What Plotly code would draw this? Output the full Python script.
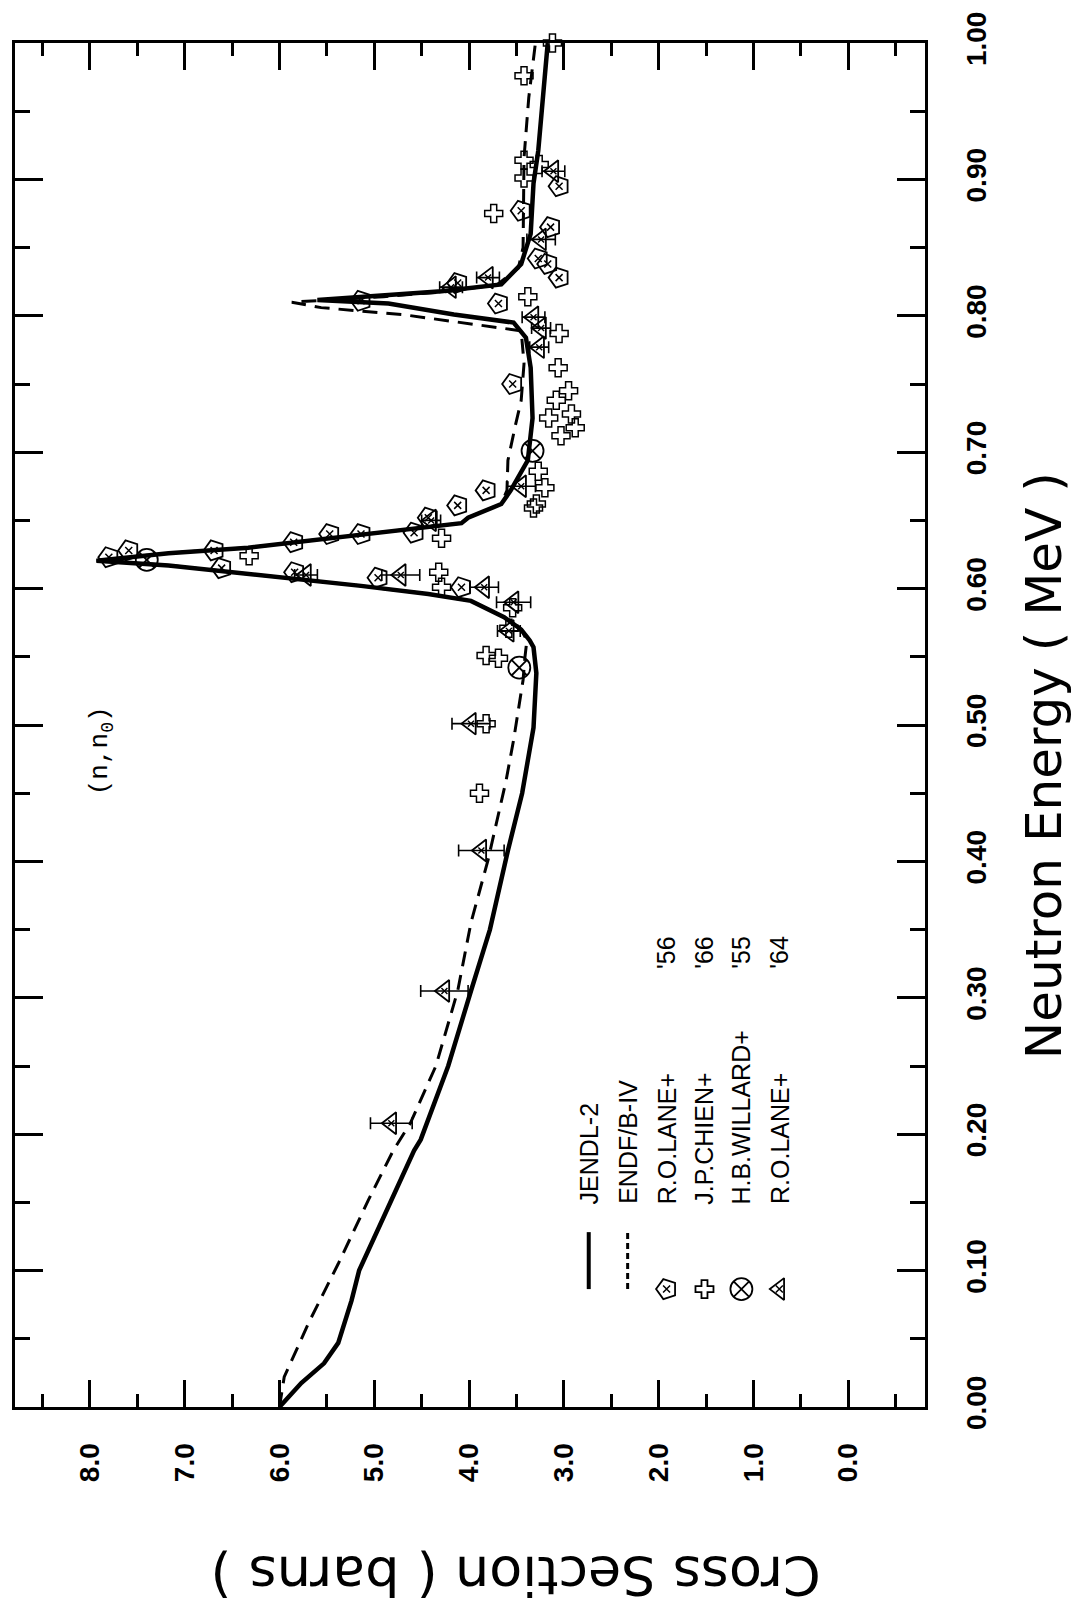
import plotly.graph_objects as go

# ---------------- data ----------------
# JENDL-2 evaluation (solid line): neutron energy (MeV) vs cross section (barns)
jendl_E = [0.0, 0.0176, 0.032, 0.047, 0.078, 0.100, 0.147, 0.188, 0.196, 0.25, 0.305, 0.35,
           0.408, 0.45, 0.498, 0.538, 0.557, 0.562, 0.570, 0.579, 0.591, 0.596, 0.602, 0.607,
           0.612, 0.617, 0.6205, 0.626, 0.630, 0.637, 0.643, 0.648, 0.652, 0.662, 0.672, 0.694,
           0.725, 0.762, 0.784, 0.795, 0.801, 0.809, 0.8115, 0.815, 0.818, 0.823, 0.838, 0.860,
           0.897, 0.921, 1.0]
jendl_xs = [6.0, 5.77, 5.53, 5.38, 5.24, 5.16, 4.85, 4.58, 4.51, 4.22, 3.98, 3.78,
            3.59, 3.44, 3.32, 3.29, 3.32, 3.36, 3.45, 3.63, 3.98, 4.43, 5.14, 5.84,
            6.54, 7.17, 7.93, 7.17, 6.33, 5.48, 4.72, 4.08, 4.01, 3.66, 3.56, 3.38,
            3.33, 3.35, 3.40, 3.53, 4.16, 4.85, 5.60, 4.85, 4.29, 3.66, 3.45, 3.35,
            3.32, 3.27, 3.17]

# ENDF/B-IV evaluation (dashed line)
endf_E = [0.0, 0.022, 0.062, 0.105, 0.152, 0.188, 0.208, 0.25, 0.305, 0.355, 0.401, 0.425,
          0.459, 0.489, 0.533, 0.55, 0.562, 0.570, 0.579, 0.591, 0.596, 0.602, 0.607, 0.612,
          0.617, 0.6205, 0.626, 0.630, 0.637, 0.643, 0.648, 0.652, 0.662, 0.672, 0.694, 0.72,
          0.738, 0.765, 0.789, 0.8007, 0.806, 0.810, 0.814, 0.818, 0.823, 0.835, 0.85, 0.916,
          0.96, 1.0]
endf_xs = [6.0, 5.95, 5.69, 5.38, 5.06, 4.80, 4.62, 4.35, 4.12, 3.98, 3.80, 3.72,
           3.61, 3.53, 3.43, 3.41, 3.39, 3.45, 3.63, 3.98, 4.43, 5.14, 5.84, 6.54,
           7.17, 7.93, 7.17, 6.33, 5.48, 4.72, 4.08, 4.01, 3.66, 3.60, 3.59, 3.51,
           3.45, 3.42, 3.45, 4.68, 5.56, 5.87, 4.90, 4.20, 3.70, 3.48, 3.43, 3.42,
           3.37, 3.30]

# R.O.LANE+ '56
lane56_E = [0.623, 0.628, 0.628, 0.615, 0.634, 0.612, 0.640, 0.640, 0.641, 0.652, 0.661,
            0.608, 0.601, 0.672, 0.750, 0.811, 0.824, 0.809, 0.842, 0.838, 0.828, 0.877,
            0.895, 0.865]
lane56_xs = [7.80, 7.59, 6.69, 6.61, 5.85, 5.84, 5.47, 5.14, 4.58, 4.43, 4.12,
             4.96, 4.08, 3.82, 3.54, 5.14, 4.12, 3.69, 3.27, 3.17, 3.05, 3.45,
             3.05, 3.14]

# J.P.CHIEN+ '66
chien_E = [0.624, 0.637, 0.612, 0.601, 0.659, 0.586, 0.571, 0.551, 0.549, 0.501, 0.450,
           0.712, 0.686, 0.662, 0.914, 0.901, 0.875, 0.814, 0.787, 0.762, 0.738, 0.725,
           0.976, 1.0, 0.911, 0.745, 0.728, 0.718, 0.674]
chien_xs = [6.32, 4.29, 4.32, 4.29, 3.32, 3.54, 3.58, 3.82, 3.69, 3.82, 3.89,
            3.03, 3.27, 3.29, 3.42, 3.42, 3.74, 3.38, 3.05, 3.06, 3.08, 3.16,
            3.42, 3.12, 3.26, 2.95, 2.92, 2.88, 3.20]

# H.B.WILLARD+ '55
willard_E = [0.621, 0.542, 0.701]
willard_xs = [7.40, 3.47, 3.33]

# R.O.LANE+ '64 (with cross-section error bars)
lane64_E = [0.208, 0.305, 0.408, 0.501, 0.610, 0.610, 0.601, 0.590, 0.569, 0.675, 0.906,
            0.856, 0.828, 0.799, 0.791, 0.777, 0.650, 0.821]
lane64_xs = [4.82, 4.26, 3.87, 3.98, 5.72, 4.72, 3.84, 3.53, 3.58, 3.45, 3.11,
             3.24, 3.80, 3.32, 3.24, 3.26, 4.40, 4.19]
lane64_err = [0.22, 0.25, 0.24, 0.20, 0.12, 0.20, 0.15, 0.18, 0.12, 0.15, 0.12,
              0.15, 0.12, 0.12, 0.10, 0.10, 0.10, 0.12]

legend_names = ["JENDL-2", "ENDF/B-IV", "R.O.LANE+", "J.P.CHIEN+", "H.B.WILLARD+", "R.O.LANE+"]
legend_years = ["", "", "'56", "'66", "'55", "'64"]

# ---------------- layout geometry (pixels) ----------------
W, H = 1085, 1623
PL, PR, PT, PB = 13, 925, 42, 1407


def px_x(p):
    return (p - PL) / (PR - PL)


def px_y(p):
    return (PB - p) / (PB - PT)


K = "black"
fig = go.Figure()

# evaluations
fig.add_trace(go.Scatter(x=endf_xs, y=endf_E, mode="lines",
                         line=dict(color=K, width=3, dash="15px,9px")))
fig.add_trace(go.Scatter(x=jendl_xs, y=jendl_E, mode="lines",
                         line=dict(color=K, width=4.5)))

# experiments
mk_line = dict(color=K, width=1.8)
fig.add_trace(go.Scatter(x=lane56_xs, y=lane56_E, mode="markers", cliponaxis=False,
                         marker=dict(symbol="pentagon-open", size=21, angle=-90, line=mk_line, color=K)))
fig.add_trace(go.Scatter(x=lane56_xs, y=lane56_E, mode="markers", cliponaxis=False,
                         marker=dict(symbol="x-thin-open", size=7, line=dict(color=K, width=1.5), color=K)))
fig.add_trace(go.Scatter(x=chien_xs, y=chien_E, mode="markers", cliponaxis=False,
                         marker=dict(symbol="cross-open", size=15, line=dict(color=K, width=1.5), color=K)))
fig.add_trace(go.Scatter(x=willard_xs, y=willard_E, mode="markers", cliponaxis=False,
                         marker=dict(symbol="circle-x-open", size=22, line=mk_line, color=K)))
fig.add_trace(go.Scatter(x=lane64_xs, y=lane64_E, mode="markers", cliponaxis=False,
                         error_x=dict(type="data", array=lane64_err, color=K, thickness=1.6, width=6),
                         marker=dict(symbol="triangle-left-open", size=19, line=mk_line, color=K)))
fig.add_trace(go.Scatter(x=lane64_xs, y=lane64_E, mode="markers", cliponaxis=False,
                         marker=dict(symbol="x-thin-open", size=6, line=dict(color=K, width=1.4), color=K)))

# ---------------- legend (drawn on an overlay 0..1 axis pair) ----------------
col_px = [588, 627, 666, 704, 741, 779]
cols = [px_x(c) for c in col_px]
y_line0, y_line1 = px_y(1289), px_y(1232)
y_mark = px_y(1289)
fig.add_trace(go.Scatter(x=[cols[0], cols[0]], y=[y_line0, y_line1], mode="lines",
                         xaxis="x2", yaxis="y2", line=dict(color=K, width=4)))
fig.add_trace(go.Scatter(x=[cols[1], cols[1]], y=[y_line0, y_line1], mode="lines",
                         xaxis="x2", yaxis="y2", line=dict(color=K, width=3, dash="6px,4px")))
leg_syms = ["pentagon-open", "cross-open", "circle-x-open", "triangle-left-open"]
leg_sizes = [21, 15, 22, 19]
for i, (s, sz) in enumerate(zip(leg_syms, leg_sizes)):
    fig.add_trace(go.Scatter(x=[cols[2 + i]], y=[y_mark], mode="markers", xaxis="x2", yaxis="y2",
                             cliponaxis=False,
                             marker=dict(symbol=s, size=sz, angle=-90 if i == 0 else 0,
                                         line=mk_line, color=K)))
    if s in ("pentagon-open", "triangle-left-open"):
        fig.add_trace(go.Scatter(x=[cols[2 + i]], y=[y_mark], mode="markers", xaxis="x2", yaxis="y2",
                                 marker=dict(symbol="x-thin-open", size=7,
                                             line=dict(color=K, width=1.5), color=K)))

ann = []
leg_font = dict(family="Liberation Sans", size=25, color=K)
for c, name, yr in zip(cols, legend_names, legend_years):
    ann.append(dict(x=c, y=px_y(1206), xref="paper", yref="paper", text=name, showarrow=False,
                    textangle=-90, xanchor="center", yanchor="bottom", font=leg_font))
    if yr:
        ann.append(dict(x=c, y=px_y(952), xref="paper", yref="paper", text=yr, showarrow=False,
                        textangle=-90, xanchor="center", yanchor="middle", font=leg_font))

# reaction label
ann.append(dict(x=px_x(100), y=px_y(750), xref="paper", yref="paper", text="(n,n<sub>0</sub>)",
                showarrow=False, textangle=-90, xanchor="center", yanchor="middle",
                font=dict(family="Liberation Mono", size=26, color=K)))

# axis titles
ann.append(dict(x=px_x(1045), y=px_y(765), xref="paper", yref="paper", text="Neutron Energy ( MeV )",
                showarrow=False, textangle=-90, xanchor="center", yanchor="middle",
                font=dict(family="DejaVu Sans", size=50, color=K)))
ann.append(dict(x=px_x(515), y=px_y(1575), xref="paper", yref="paper", text="Cross Section ( barns )",
                showarrow=False, textangle=180, xanchor="center", yanchor="middle",
                font=dict(family="DejaVu Sans", size=54, color=K)))

tick_font = dict(family="Liberation Sans", size=28, color=K, weight="bold")
fig.update_layout(
    width=W, height=H,
    margin=dict(l=PL, r=W - PR, t=PT, b=H - PB, pad=0),
    paper_bgcolor="white", plot_bgcolor="white",
    showlegend=False,
    annotations=ann,
    xaxis=dict(range=[8.79, -0.81], tickmode="linear", tick0=0, dtick=1, tickformat=".1f",
               tickangle=-90, ticks="inside", ticklen=27, tickwidth=3, tickcolor=K,
               showline=True, linewidth=3, linecolor=K, mirror="ticks",
               showgrid=False, zeroline=False, tickfont=tick_font, ticklabelstandoff=22,
               minor=dict(ticks="inside", ticklen=13, tickwidth=3, tickcolor=K,
                          tickmode="linear", tick0=0, dtick=0.5, showgrid=False)),
    yaxis=dict(range=[0, 1], side="right", tickmode="linear", tick0=0, dtick=0.1, tickformat=".2f",
               tickangle=-90, ticks="inside", ticklen=28, tickwidth=3, tickcolor=K,
               showline=True, linewidth=3, linecolor=K, mirror="ticks",
               showgrid=False, zeroline=False, tickfont=tick_font, ticklabelstandoff=24,
               minor=dict(ticks="inside", ticklen=15, tickwidth=3, tickcolor=K,
                          tickmode="linear", tick0=0, dtick=0.05, showgrid=False)),
    xaxis2=dict(overlaying="x", anchor="y2", range=[0, 1], visible=False),
    yaxis2=dict(overlaying="y", anchor="x2", range=[0, 1], visible=False),
)

fig.write_html("out.html")
